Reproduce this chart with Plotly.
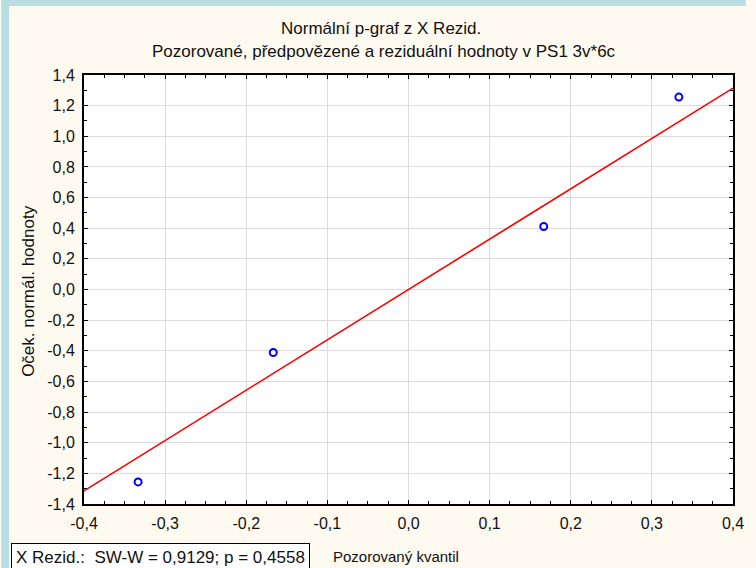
import plotly.graph_objects as go
import numpy as np

# Residuals (observed quantiles) and their expected normal values
observed = [-0.3333, -0.1667, 0.1667, 0.3333]
expected = [-1.256, -0.411, 0.411, 1.256]

x_ticks = [-0.4, -0.3, -0.2, -0.1, 0.0, 0.1, 0.2, 0.3, 0.4]
x_tick_labels = ["-0,4", "-0,3", "-0,2", "-0,1", "0,0", "0,1", "0,2", "0,3", "0,4"]
y_ticks = [-1.4, -1.2, -1.0, -0.8, -0.6, -0.4, -0.2, 0.0, 0.2, 0.4, 0.6, 0.8, 1.0, 1.2, 1.4]
y_tick_labels = ["-1,4", "-1,2", "-1,0", "-0,8", "-0,6", "-0,4", "-0,2", "0,0",
                 "0,2", "0,4", "0,6", "0,8", "1,0", "1,2", "1,4"]

# Reference line: standardised observed value (x - mean) / sd
obs = np.array(observed)
mu, sd = obs.mean(), obs.std(ddof=1)
line_x = np.array([-0.4, 0.4])
line_y = (line_x - mu) / sd

W, H = 756, 568
L, R, T, B = 84, 743, 75, 504  # plot frame in pixels


def px(x):
    return (x - L) / (R - L)


def py(y):
    return (B - y) / (B - T)


FONT = "Liberation Sans, Arial, sans-serif"
INK = "#111111"
CREAM = "#fffaf0"
STRIP = "#b8dde2"

fig = go.Figure()
fig.add_trace(go.Scatter(x=line_x, y=line_y, mode="lines",
                         line=dict(color="#ff0000", width=1.6),
                         hoverinfo="skip", showlegend=False))
fig.add_trace(go.Scatter(x=observed, y=expected, mode="markers",
                         marker=dict(symbol="circle-open", size=7, color="#0000ff",
                                     line=dict(width=2, color="#0000ff")),
                         showlegend=False))

axis_common = dict(
    showgrid=True, gridcolor="#dcdcdc", gridwidth=1,
    zeroline=False, showline=True, linecolor="#000000", linewidth=2,
    mirror="ticks", ticks="inside", ticklen=4, tickcolor="#000000", tickwidth=1,
    tickfont=dict(family=FONT, size=16, color=INK),
)

fig.update_xaxes(range=[-0.4, 0.4], tickvals=x_ticks, ticktext=x_tick_labels,
                 ticklabelstandoff=4,
                 minor=dict(dtick=0.025, tick0=0, ticks="inside", ticklen=3,
                            tickcolor="#000000", showgrid=False),
                 **axis_common)
fig.update_yaxes(range=[-1.4, 1.4], tickvals=y_ticks, ticktext=y_tick_labels,
                 ticklabelstandoff=4,
                 minor=dict(dtick=0.1, tick0=0, ticks="inside", ticklen=3,
                            tickcolor="#000000", showgrid=False),
                 **axis_common)

annotations = [
    dict(text="Normální p-graf z X Rezid.", x=px(386), y=py(28), size=17),
    dict(text="Pozorované, předpovězené a reziduální hodnoty v PS1 3v*6c",
         x=px(389), y=py(52), size=17),
    dict(text="Pozorovaný kvantil", x=px(401), y=py(556), size=15),
    dict(text="Oček. normál. hodnoty", x=px(27), y=py(291), size=17, textangle=-90),
]
for a in annotations:
    size = a.pop("size")
    fig.add_annotation(xref="paper", yref="paper", showarrow=False,
                       xanchor="center", yanchor="middle",
                       font=dict(family=FONT, size=size, color=INK), **a)

# Shapiro-Wilk result box
fig.add_annotation(xref="paper", yref="paper", showarrow=False,
                   text="X Rezid.:\u00a0 SW-W = 0,9129; p = 0,4558",
                   x=px(10), y=py(557), xanchor="left", yanchor="middle",
                   bgcolor="#ffffff", bordercolor="#000000", borderwidth=1, borderpad=4,
                   font=dict(family=FONT, size=17, color=INK))

# Page border strips
fig.add_shape(type="rect", xref="paper", yref="paper", layer="below",
              x0=px(0), x1=px(8), y0=py(H), y1=py(0), fillcolor=STRIP, line_width=0)
fig.add_shape(type="rect", xref="paper", yref="paper", layer="below",
              x0=px(0), x1=px(W), y0=py(6), y1=py(0), fillcolor=STRIP, line_width=0)

fig.update_layout(
    width=W, height=H,
    margin=dict(l=L, r=W - R, t=T, b=H - B, pad=0),
    paper_bgcolor=CREAM, plot_bgcolor="#ffffff",
    showlegend=False,
)

fig.write_html("out.html")
